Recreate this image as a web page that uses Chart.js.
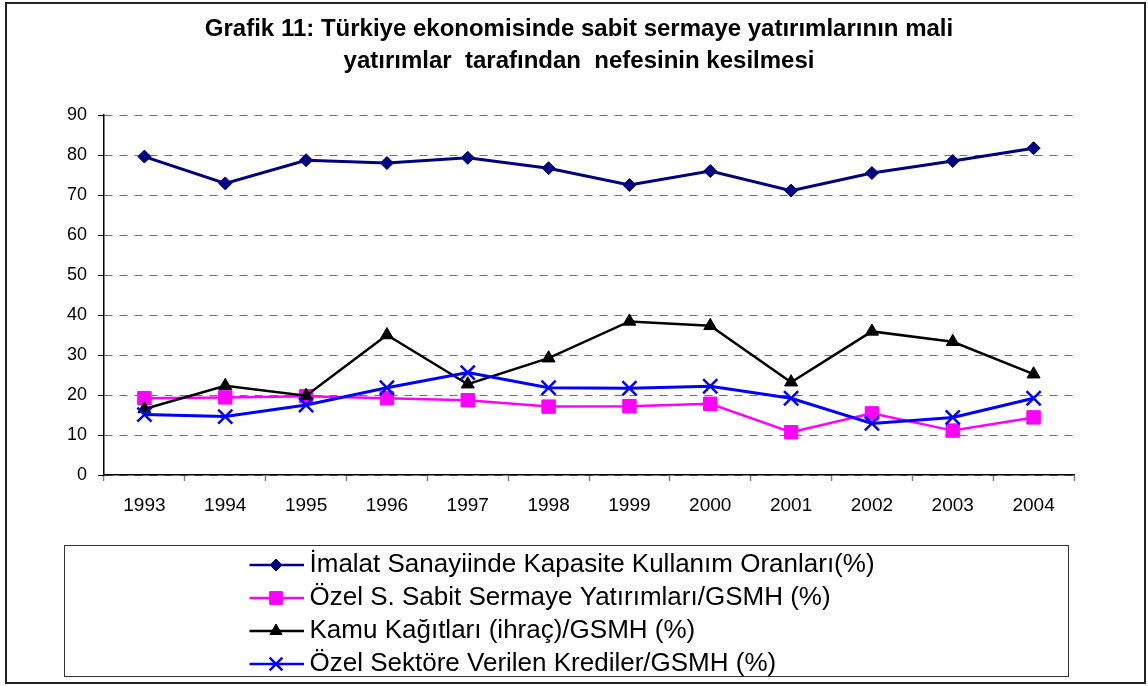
<!DOCTYPE html>
<html>
<head>
<meta charset="utf-8">
<script src="https://cdn.jsdelivr.net/npm/chart.js@4.4.1/dist/chart.umd.min.js"></script>
<style>
html,body{margin:0;padding:0;background:#fff;}
#wrap{width:1148px;height:686px;position:relative;}
</style>
</head>
<body>
<div id="wrap"><canvas id="c" width="1148" height="686"></canvas></div>
<script>
// ---- data ----
const years = ['1993','1994','1995','1996','1997','1998','1999','2000','2001','2002','2003','2004'];
const imalatKapasite = [79.6, 72.9, 78.7, 78.0, 79.3, 76.7, 72.5, 76.0, 71.1, 75.5, 78.5, 81.7];
const ozelSabitYatirim = [19.2, 19.4, 19.7, 19.2, 18.7, 17.1, 17.2, 17.8, 10.7, 15.4, 11.1, 14.4];
const kamuKagitlari = [16.5, 22.3, 19.8, 35.0, 22.7, 29.2, 38.4, 37.3, 23.2, 35.9, 33.3, 25.2];
const ozelKrediler = [15.1, 14.6, 17.5, 21.8, 25.6, 21.8, 21.7, 22.2, 19.2, 12.9, 14.4, 19.2];
const seriesLabels = [
  'İmalat Sanayiinde Kapasite Kullanım Oranları(%)',
  'Özel S. Sabit Sermaye Yatırımları/GSMH (%)',
  'Kamu Kağıtları (ihraç)/GSMH (%)',
  'Özel Sektöre Verilen Krediler/GSMH (%)'
];
const titleLines = [
  'Grafik 11: Türkiye ekonomisinde sabit sermaye yatırımlarının mali',
  'yatırımlar  tarafından  nefesinin kesilmesi'
];
const yMin = 0, yMax = 90, yStep = 10;

const FONT = "'Liberation Sans', Arial, Helvetica, sans-serif";

const styles = [
  {color:'#000080', pointStyle:'rectRot', radius:6.5, lineWidth:3, pbw:1, legendRadius:6, order:4},
  {color:'#FF00FF', pointStyle:'rect', radius:9.5, lineWidth:2.5, pbw:1, legendRadius:9, order:3},
  {color:'#000000', pointStyle:'triangle', radius:7.5, lineWidth:2.5, pbw:1, legendRadius:7, order:2},
  {color:'#0000FF', pointStyle:'crossRot', radius:10, lineWidth:3, pbw:2.5, legendRadius:9, order:1}
];
const seriesData = [imalatKapasite, ozelSabitYatirim, kamuKagitlari, ozelKrediler];

function legendSample(st){
  const cv = document.createElement('canvas');
  cv.width = 55; cv.height = 24;
  const c = cv.getContext('2d');
  c.strokeStyle = st.color; c.fillStyle = st.color;
  c.lineWidth = 2.5;
  c.beginPath(); c.moveTo(0, 12); c.lineTo(55, 12); c.stroke();
  c.lineWidth = st.pbw;
  Chart.helpers.drawPoint(c, {pointStyle: st.pointStyle, radius: st.legendRadius, borderWidth: st.pbw, rotation: 0}, 27, 12);
  return cv;
}
const samples = styles.map(legendSample);

const datasets = seriesData.map((d, i) => ({
  label: seriesLabels[i],
  data: d,
  borderColor: styles[i].color,
  backgroundColor: styles[i].color,
  borderWidth: styles[i].lineWidth,
  pointStyle: styles[i].pointStyle,
  pointRadius: styles[i].radius,
  pointHoverRadius: styles[i].radius,
  pointBorderWidth: styles[i].pbw,
  pointBackgroundColor: styles[i].color,
  pointBorderColor: styles[i].color,
  tension: 0,
  order: styles[i].order
}));

const decor = {
  id: 'decor',
  afterLayout(chart){
    if (chart.legend) { chart.legend.left = 249.5; chart.legend.top += 1; }
    if (chart.titleBlock) { chart.titleBlock.left = 10; chart.titleBlock.right = 1148; }
  },
  beforeDraw(chart){
    const ctx = chart.ctx;
    ctx.save();
    ctx.fillStyle = '#fff';
    ctx.fillRect(0, 0, chart.width, chart.height);
    ctx.restore();
  },
  afterDraw(chart){
    const ctx = chart.ctx;
    ctx.save();
    ctx.strokeStyle = '#333';
    ctx.lineWidth = 1;
    ctx.strokeRect(64.5, 545.5, 1004, 131);
    ctx.strokeStyle = '#222';
    ctx.lineWidth = 2;
    ctx.strokeRect(6, 3, 1139, 680);
    ctx.restore();
  }
};

new Chart(document.getElementById('c'), {
  type: 'line',
  data: { labels: years, datasets: datasets },
  options: {
    responsive: false,
    animation: false,
    devicePixelRatio: 1,
    layout: { padding: { left: 0, right: 74, top: 0, bottom: 0 } },
    plugins: {
      title: {
        display: true,
        text: titleLines,
        color: '#000',
        font: { family: FONT, size: 24, weight: 'bold', lineHeight: 32/24 },
        padding: { top: 13, bottom: 38 }
      },
      legend: {
        display: true,
        position: 'bottom',
        align: 'start',
        fullSize: false,
        labels: {
          color: '#000',
          font: { family: FONT, size: 26 },
          usePointStyle: true,
          pointStyleWidth: 40,
          padding: 7,
          generateLabels: () => seriesLabels.map((t, i) => ({
            text: t,
            pointStyle: samples[i],
            fillStyle: styles[i].color,
            strokeStyle: styles[i].color,
            lineWidth: 0,
            hidden: false,
            datasetIndex: i,
            fontColor: '#000'
          }))
        }
      },
      tooltip: { enabled: false }
    },
    scales: {
      x: {
        offset: true,
        afterFit(scale){ scale.height = 69; },
        grid: { display: true, drawOnChartArea: false, offset: true, tickLength: 6, tickColor: '#808080', tickWidth: 1.5 },
        border: { display: true, color: '#000', width: 1.5 },
        ticks: { color: '#000', font: { family: FONT, size: 19 }, padding: 13, maxRotation: 0 }
      },
      y: {
        min: yMin, max: yMax,
        afterFit(scale){ scale.width = 104; },
        grid: { color: '#707070', lineWidth: 1, tickLength: 6, tickColor: '#000', tickBorderDash: [] },
        border: { display: true, color: '#000', width: 1.5, dash: [8, 7] },
        ticks: { stepSize: yStep, color: '#000', font: { family: FONT, size: 18 }, padding: 11 }
      }
    }
  },
  plugins: [decor]
});
</script>
</body>
</html>
